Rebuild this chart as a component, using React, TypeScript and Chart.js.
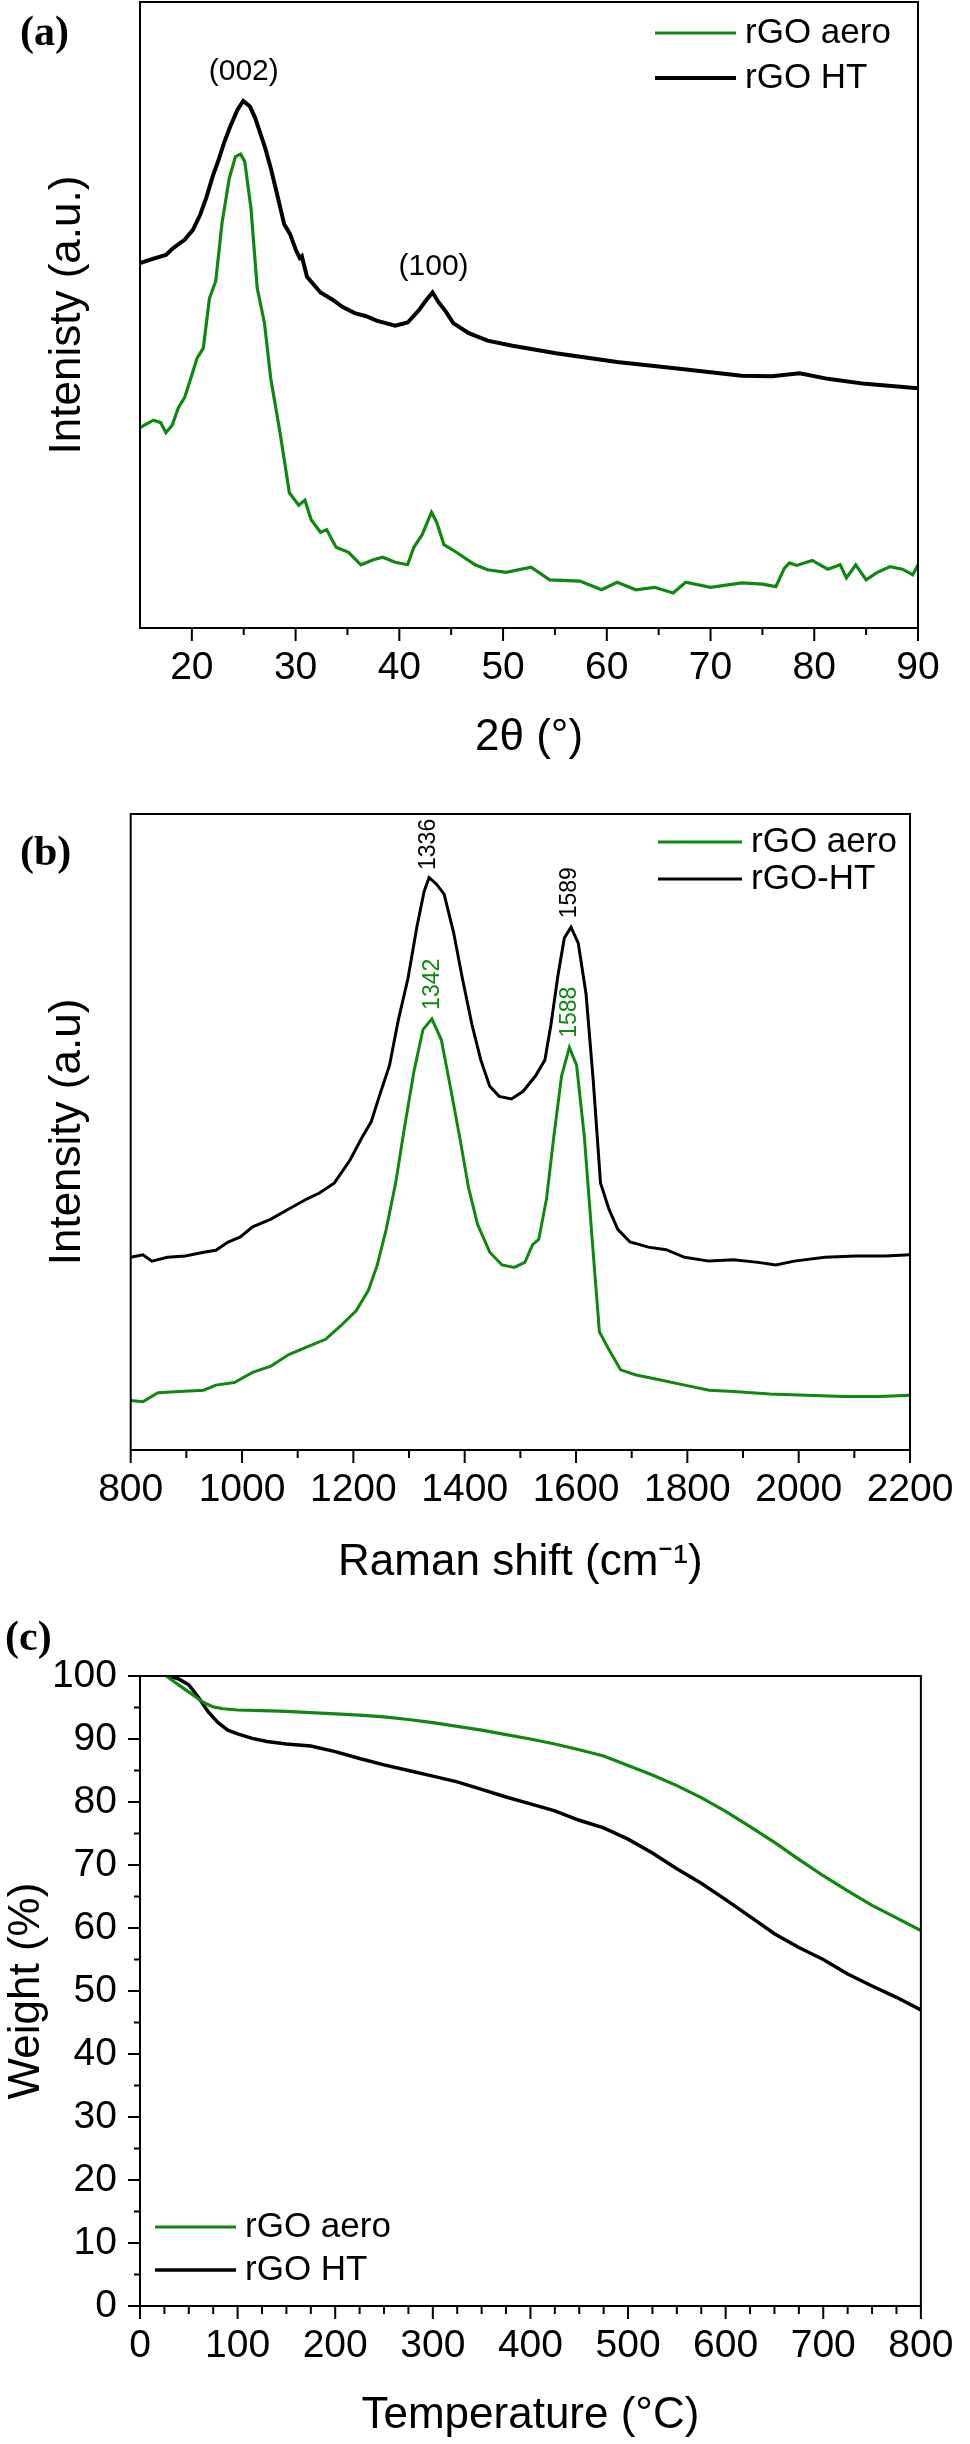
import React, { useEffect, useRef } from 'react';
import { Chart, registerables } from 'chart.js';

Chart.register(...registerables);

const SANS = 'Arial, "Liberation Sans", Helvetica, sans-serif';
const SERIF = '"Times New Roman", "Liberation Serif", Times, serif';
const GREEN = '#0f880f';
const BLACK = '#000000';

// (a) XRD, intensity read as % of plot height
const xrdAeroTheta = [15, 16.3, 17.0, 17.5, 18.1, 18.7, 19.3, 19.9, 20.5, 21.1, 21.7, 22.3, 22.9, 23.6, 24.2, 24.7, 25.1, 25.7, 26.3, 27.0, 27.6, 28.5, 29.4, 30.3, 30.9, 31.5, 32.4, 33.0, 33.9, 35.1, 36.3, 37.5, 38.4, 39.6, 40.8, 41.4, 42.2, 43.1, 43.6, 44.3, 45.5, 47.3, 48.5, 50.3, 52.7, 54.5, 57.4, 59.5, 61.0, 62.8, 64.6, 66.4, 67.6, 70.0, 73.0, 75.0, 76.3, 77.1, 77.6, 78.3, 79.8, 81.3, 82.5, 83.1, 84.0, 85.0, 86.0, 87.3, 88.5, 89.5, 90];
const xrdAeroIntensity = [32.0, 33.2, 32.8, 31.2, 32.4, 35.2, 36.8, 39.9, 43.1, 44.7, 52.7, 55.4, 64.6, 71.8, 75.3, 75.7, 74.5, 67.0, 54.3, 48.7, 39.9, 31.2, 21.6, 19.6, 20.4, 17.3, 15.3, 15.7, 12.9, 12.1, 10.1, 10.9, 11.3, 10.5, 10.1, 12.9, 14.9, 18.5, 16.9, 13.3, 12.1, 10.1, 9.3, 8.9, 9.7, 7.7, 7.5, 6.1, 7.3, 6.1, 6.5, 5.6, 7.3, 6.5, 7.2, 7.0, 6.6, 9.5, 10.4, 10.0, 10.8, 9.4, 10.1, 8.0, 10.1, 7.7, 8.8, 9.8, 9.4, 8.5, 10.1];
const xrdHtTheta = [15.0, 16.3, 17.5, 18.2, 19.3, 20.1, 20.8, 21.4, 22.0, 22.6, 23.1, 23.7, 24.4, 24.95, 25.6, 26.1, 26.6, 27.1, 27.6, 28.2, 28.9, 29.45, 30.0, 30.4, 30.6, 31.1, 32.4, 33.6, 34.5, 35.7, 36.8, 37.8, 39.6, 40.8, 41.9, 42.6, 43.2, 43.8, 44.5, 45.2, 46.7, 48.5, 50.9, 55.1, 61.0, 67.0, 73.0, 75.9, 78.6, 81.3, 84.9, 90.0];
const xrdHtIntensity = [58.3, 59.0, 59.6, 60.7, 62.0, 63.6, 66.0, 68.8, 72.1, 74.9, 77.5, 80.1, 82.8, 84.2, 83.3, 81.5, 79.0, 76.5, 73.5, 69.4, 64.5, 63.0, 60.5, 59.1, 59.4, 56.1, 53.6, 52.4, 51.3, 50.3, 49.8, 49.1, 48.3, 48.8, 50.8, 52.4, 53.6, 52.0, 50.5, 48.7, 47.1, 45.9, 45.1, 43.9, 42.5, 41.4, 40.3, 40.2, 40.7, 39.8, 39.0, 38.3];
const xrdTicks = [20, 30, 40, 50, 60, 70, 80, 90];
const xrdMinorTicks = [25, 35, 45, 55, 65, 75, 85];
const xrdPeakTheta = [25.0, 43.3];
const xrdPeakLevel = [88.8, 57.7];
const xrdPeakText = ['(002)', '(100)'];

// (b) Raman
const ramanAeroShift = [800, 822, 849, 888, 931, 953, 986, 1019, 1052, 1084, 1117, 1150, 1177, 1205, 1227, 1243, 1259, 1276, 1292, 1309, 1325, 1341, 1358, 1374, 1391, 1407, 1423, 1445, 1467, 1489, 1508, 1522, 1533, 1547, 1560, 1574, 1588, 1601, 1615, 1629, 1642, 1659, 1680, 1708, 1752, 1795, 1839, 1883, 1948, 2014, 2080, 2145, 2200];
const ramanAeroIntensity = [7.8, 7.6, 9.0, 9.2, 9.4, 10.2, 10.6, 12.2, 13.2, 15.0, 16.2, 17.4, 19.5, 21.9, 25.1, 29.1, 34.7, 42.0, 50.8, 59.6, 66.1, 67.8, 64.5, 57.2, 49.2, 41.2, 35.5, 31.1, 29.1, 28.7, 29.5, 32.3, 33.1, 39.5, 49.2, 58.8, 63.3, 60.5, 49.2, 33.1, 18.6, 15.8, 12.6, 11.8, 11.0, 10.2, 9.4, 9.2, 8.8, 8.6, 8.4, 8.4, 8.6];
const ramanHtShift = [800, 822, 838, 866, 898, 931, 953, 975, 997, 1019, 1052, 1084, 1117, 1139, 1166, 1194, 1216, 1232, 1248, 1265, 1281, 1298, 1314, 1327, 1336, 1349, 1363, 1380, 1396, 1413, 1429, 1445, 1462, 1484, 1505, 1527, 1544, 1555, 1568, 1579, 1591, 1604, 1618, 1631, 1644, 1659, 1675, 1697, 1730, 1762, 1795, 1839, 1883, 1927, 1959, 1992, 2047, 2102, 2156, 2200];
const ramanHtIntensity = [30.3, 30.7, 29.7, 30.3, 30.5, 31.1, 31.4, 32.7, 33.5, 35.1, 36.3, 37.9, 39.5, 40.4, 42.0, 45.6, 49.2, 51.6, 56.0, 60.5, 67.7, 74.1, 82.2, 87.8, 90.0, 89.0, 87.4, 81.4, 74.1, 66.9, 61.3, 57.2, 55.6, 55.2, 56.4, 58.8, 61.3, 66.9, 74.9, 80.5, 82.2, 79.7, 71.7, 58.0, 42.0, 37.9, 34.7, 32.7, 31.9, 31.5, 30.3, 29.7, 29.9, 29.5, 29.1, 29.7, 30.3, 30.5, 30.5, 30.7];
const ramanTicks = [800, 1000, 1200, 1400, 1600, 1800, 2000, 2200];
const ramanMinorTicks = [900, 1100, 1300, 1500, 1700, 1900, 2100];
const ramanPeakShift = [1336, 1342, 1589, 1588];
const ramanPeakLevel = [91.2, 69.2, 83.6, 64.8];
const ramanPeakText = ['1336', '1342', '1589', '1588'];
const ramanPeakSeries = [1, 0, 1, 0];

// (c) TGA
const tgaAeroTemp = [27, 35, 45, 55, 65, 75, 85, 100, 125, 150, 175, 200, 225, 250, 275, 300, 325, 350, 375, 400, 425, 450, 475, 500, 525, 550, 575, 600, 625, 650, 675, 700, 725, 750, 775, 800];
const tgaAeroWeight = [100, 99.1, 98.0, 96.9, 95.8, 95.1, 94.8, 94.6, 94.5, 94.4, 94.2, 94.0, 93.8, 93.5, 93.1, 92.6, 92.0, 91.4, 90.7, 90.0, 89.2, 88.3, 87.3, 85.8, 84.3, 82.6, 80.7, 78.5, 76.1, 73.6, 70.9, 68.3, 65.9, 63.6, 61.6, 59.6];
const tgaHtTemp = [30, 40, 50, 60, 70, 80, 90, 100, 115, 130, 150, 175, 200, 225, 250, 275, 300, 325, 350, 375, 400, 425, 450, 475, 500, 525, 550, 575, 600, 625, 650, 675, 700, 725, 750, 775, 800];
const tgaHtWeight = [100, 99.5, 98.6, 96.6, 94.3, 92.6, 91.4, 90.8, 90.1, 89.6, 89.2, 88.9, 88.0, 86.9, 85.9, 85.0, 84.1, 83.2, 82.0, 80.8, 79.7, 78.6, 77.1, 75.9, 74.1, 71.9, 69.4, 67.1, 64.5, 61.8, 59.1, 56.9, 55.0, 52.7, 50.8, 49.0, 47.0];
const tgaTempTicks = [0, 100, 200, 300, 400, 500, 600, 700, 800];
const tgaTempMinor = [25, 50, 75, 125, 150, 175, 225, 250, 275, 325, 350, 375, 425, 450, 475, 525, 550, 575, 625, 650, 675, 725, 750, 775];
const tgaWeightTicks = [0, 10, 20, 30, 40, 50, 60, 70, 80, 90, 100];
const tgaWeightMinor = [5, 15, 25, 35, 45, 55, 65, 75, 85, 95];

const pts = (xs: number[], ys: number[]) => xs.map((x, i) => ({ x, y: ys[i] }));

type Note = { x: number; y: number; text: string; color: string; size: number; vertical?: boolean };
type Decor = {
  xMajor: number[]; xMinor: number[]; xLen: [number, number];
  yMajor: number[]; yMinor: number[]; yLen: [number, number];
  legend: { x: number; y: number; gap: number; len: number; size: number };
  notes: Note[];
};

// frame, tick marks, legend and peak labels
function decor(cfg: Decor) {
  return {
    id: 'decor',
    afterDraw(chart: any) {
      const { ctx, chartArea: a } = chart;
      const xs = chart.scales.x;
      const ys = chart.scales.y;
      ctx.save();
      ctx.strokeStyle = '#000';
      ctx.lineWidth = 2;
      ctx.strokeRect(a.left, a.top, a.right - a.left, a.bottom - a.top);
      ctx.beginPath();
      const down = (vals: number[], len: number) => vals.forEach((v) => {
        const p = xs.getPixelForValue(v);
        ctx.moveTo(p, a.bottom);
        ctx.lineTo(p, a.bottom + len);
      });
      const left = (vals: number[], len: number) => vals.forEach((v) => {
        const p = ys.getPixelForValue(v);
        ctx.moveTo(a.left, p);
        ctx.lineTo(a.left - len, p);
      });
      down(cfg.xMajor, cfg.xLen[0]);
      down(cfg.xMinor, cfg.xLen[1]);
      left(cfg.yMajor, cfg.yLen[0]);
      left(cfg.yMinor, cfg.yLen[1]);
      ctx.stroke();

      const L = cfg.legend;
      chart.data.datasets.forEach((ds: any, i: number) => {
        const y = L.y + i * L.gap;
        ctx.strokeStyle = ds.borderColor;
        ctx.lineWidth = ds.borderWidth;
        ctx.beginPath();
        ctx.moveTo(L.x, y);
        ctx.lineTo(L.x + L.len, y);
        ctx.stroke();
        ctx.fillStyle = '#000';
        ctx.font = `${L.size}px ${SANS}`;
        ctx.textAlign = 'left';
        ctx.textBaseline = 'middle';
        ctx.fillText(ds.label, L.x + L.len + 9, y);
      });

      cfg.notes.forEach((n) => {
        ctx.save();
        ctx.translate(xs.getPixelForValue(n.x), ys.getPixelForValue(n.y));
        ctx.fillStyle = n.color;
        ctx.font = `${n.size}px ${SANS}`;
        ctx.textBaseline = 'middle';
        if (n.vertical) {
          ctx.rotate(-Math.PI / 2);
          ctx.textAlign = 'left';
        } else {
          ctx.textAlign = 'center';
        }
        ctx.fillText(n.text, 0, 0);
        ctx.restore();
      });
      ctx.restore();
    },
  };
}

const tickFont = { family: SANS, size: 39 };
const titleFont = { family: SANS, size: 44 };

function xAxis(min: number, max: number, ticks: number[], title: string, height: number, padBottom: number) {
  return {
    type: 'linear',
    min,
    max,
    afterBuildTicks: (s: any) => { s.ticks = ticks.map((value) => ({ value })); },
    afterFit: (s: any) => { s.height = height; },
    grid: { display: false, drawTicks: false },
    border: { display: false },
    ticks: { font: tickFont, color: '#000', padding: 16.6, autoSkip: false, maxRotation: 0, callback: (v: any) => String(v) },
    title: { display: true, text: title, font: titleFont, color: '#000', padding: { top: 0, bottom: padBottom } },
  };
}

function line(label: string, data: { x: number; y: number }[], color: string, width: number) {
  return { label, data, borderColor: color, backgroundColor: color, borderWidth: width, pointRadius: 0, fill: false, tension: 0 };
}

const base = {
  responsive: false,
  animation: false,
  events: [],
  plugins: { legend: { display: false }, tooltip: { enabled: false } },
};

function xrdConfig(): any {
  return {
    type: 'line',
    data: {
      datasets: [
        line('rGO aero', pts(xrdAeroTheta, xrdAeroIntensity), GREEN, 3.2),
        line('rGO HT', pts(xrdHtTheta, xrdHtIntensity), BLACK, 4),
      ],
    },
    options: {
      ...base,
      layout: { padding: { left: 0, right: 52, top: 2, bottom: 0 } },
      scales: {
        x: xAxis(15, 90, xrdTicks, '2θ (°)', 152, 15.6),
        y: {
          min: 0, max: 100,
          afterFit: (s: any) => { s.width = 140; },
          ticks: { display: false },
          grid: { display: false, drawTicks: false },
          border: { display: false },
          title: { display: true, text: 'Intenisty (a.u.)', font: titleFont, color: '#000', padding: { top: 41.6, bottom: 0 } },
        },
      },
    },
    plugins: [decor({
      xMajor: xrdTicks, xMinor: xrdMinorTicks, xLen: [13, 7],
      yMajor: [], yMinor: [], yLen: [0, 0],
      legend: { x: 655, y: 33, gap: 45, len: 81, size: 35 },
      notes: xrdPeakTheta.map((x, i) => ({ x, y: xrdPeakLevel[i], text: xrdPeakText[i], color: '#000', size: 30 })),
    })],
  };
}

function ramanConfig(): any {
  const colors = [GREEN, BLACK];
  return {
    type: 'line',
    data: {
      datasets: [
        line('rGO aero', pts(ramanAeroShift, ramanAeroIntensity), GREEN, 3),
        line('rGO-HT', pts(ramanHtShift, ramanHtIntensity), BLACK, 3),
      ],
    },
    options: {
      ...base,
      layout: { padding: { left: 0, right: 48.3, top: 34, bottom: 0 } },
      scales: {
        x: xAxis(800, 2200, ramanTicks, 'Raman shift (cm⁻¹)', 150, 10.6),
        y: {
          min: 0, max: 100,
          afterFit: (s: any) => { s.width = 130.7; },
          ticks: { display: false },
          grid: { display: false, drawTicks: false },
          border: { display: false },
          title: { display: true, text: 'Intensity (a.u)', font: titleFont, color: '#000', padding: { top: 41.6, bottom: 0 } },
        },
      },
    },
    plugins: [decor({
      xMajor: ramanTicks, xMinor: ramanMinorTicks, xLen: [13, 8],
      yMajor: [], yMinor: [], yLen: [0, 0],
      legend: { x: 658, y: 62, gap: 37, len: 84, size: 35 },
      notes: ramanPeakShift.map((x, i) => ({
        x, y: ramanPeakLevel[i], text: ramanPeakText[i], color: colors[ramanPeakSeries[i]], size: 23, vertical: true,
      })),
    })],
  };
}

function tgaConfig(): any {
  return {
    type: 'line',
    data: {
      datasets: [
        line('rGO aero', pts(tgaAeroTemp, tgaAeroWeight), GREEN, 3.2),
        line('rGO HT', pts(tgaHtTemp, tgaHtWeight), BLACK, 3.5),
      ],
    },
    options: {
      ...base,
      layout: { padding: { left: 0, right: 49, top: 76, bottom: 0 } },
      scales: {
        x: xAxis(0, 800, tgaTempTicks, 'Temperature (°C)', 138, 1.6),
        y: {
          min: 0, max: 100,
          afterBuildTicks: (s: any) => { s.ticks = tgaWeightTicks.map((value) => ({ value })); },
          afterFit: (s: any) => { s.width = 140; },
          ticks: { font: tickFont, color: '#000', padding: 23, callback: (v: any) => String(v) },
          grid: { display: false, drawTicks: false },
          border: { display: false },
          title: { display: true, text: 'Weight (%)', font: titleFont, color: '#000', padding: { top: 0, bottom: 0 } },
        },
      },
    },
    plugins: [decor({
      xMajor: tgaTempTicks, xMinor: tgaTempMinor, xLen: [13, 8],
      yMajor: tgaWeightTicks, yMinor: tgaWeightMinor, yLen: [12, 6],
      legend: { x: 155, y: 627, gap: 43, len: 81, size: 35 },
      notes: [],
    })],
  };
}

function Panel(props: { top: number; height: number; config: () => any }) {
  const ref = useRef<HTMLCanvasElement | null>(null);

  useEffect(() => {
    if (!ref.current) return;
    const chart = new Chart(ref.current, props.config());
    return () => chart.destroy();
  }, []);

  return (
    <div style={{ position: 'absolute', left: 0, top: props.top, width: 970, height: props.height }}>
      <canvas ref={ref} width={970} height={props.height} style={{ display: 'block' }} />
    </div>
  );
}

const tag = (left: number, top: number): React.CSSProperties => ({
  position: 'absolute', left, top, fontFamily: SERIF, fontWeight: 'bold', fontSize: 42, lineHeight: 1, color: '#000',
});

export default function App() {
  return (
    <div style={{ position: 'absolute', left: 0, top: 0, width: 970, height: 2444, background: '#fff' }}>
      <Panel top={0} height={780} config={xrdConfig} />
      <Panel top={780} height={820} config={ramanConfig} />
      <Panel top={1600} height={844} config={tgaConfig} />
      <div style={tag(20, 10)}>(a)</div>
      <div style={tag(20, 830)}>(b)</div>
      <div style={tag(5, 1615)}>(c)</div>
    </div>
  );
}
